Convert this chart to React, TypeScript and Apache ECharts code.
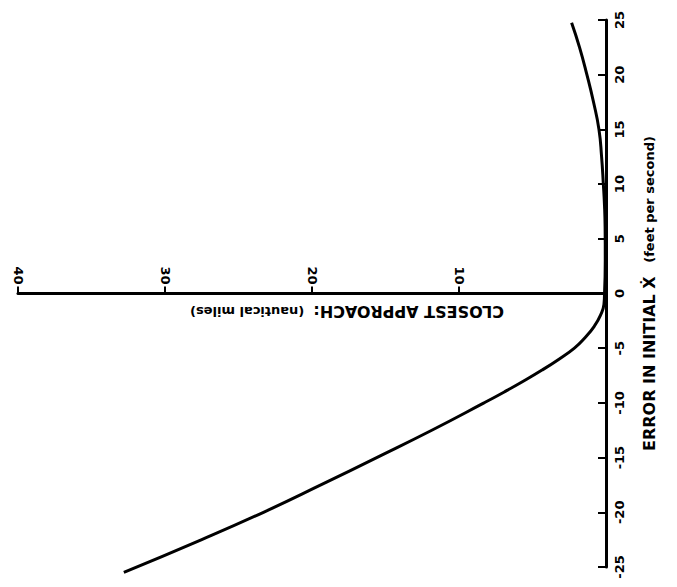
import { useEffect, useRef } from 'react';
import * as echarts from 'echarts';

// Error in initial X-dot (feet per second) — vertical axis
const errorMin = -25;
const errorMax = 25;
const errorInterval = 5;
// Closest approach (nautical miles) — horizontal axis
const approachMin = 0;
const approachMax = 40;
const approachInterval = 10;

// Branch for negative errors
const lowerError = [0, -1, -2, -3, -4, -5, -6, -7, -8, -9, -10, -12.5, -15, -17.5, -20, -22.5, -25.5];
const lowerApproach = [0.1, 0.14, 0.38, 0.8, 1.4, 2.15, 3.2, 4.35, 5.6, 6.92, 8.3, 11.85, 15.6, 19.4, 23.3, 27.5, 32.8];

// Branch for positive errors
const upperError = [0, 3, 6, 8, 10, 12.5, 15, 17.5, 20, 22.5, 24.75];
const upperApproach = [0.1, 0.05, 0.06, 0.1, 0.18, 0.3, 0.48, 0.85, 1.3, 1.8, 2.34];

const xTitleMain = 'CLOSEST APPROACH:';
const xTitleUnit = '(nautical miles)';
const yTitleMain = 'ERROR IN INITIAL Ẋ';
const yTitleUnit = '(feet per second)';

const FONT = 'DejaVu Sans';

export default function App() {
  const ref = useRef<HTMLDivElement>(null);
  useEffect(() => {
    document.body.style.margin = '0';
    const chart = echarts.init(ref.current!, null, { renderer: 'svg' });
    const lower = lowerError.map((e, i) => [lowerApproach[i], e]);
    const upper = upperError.map((e, i) => [upperApproach[i], e]);
    const gridTop = 20;
    const gridBottom = 20;
    const gridH = 587 - gridTop - gridBottom;
    chart.setOption({
      animation: false,
      backgroundColor: '#ffffff',
      grid: { left: 18, right: 71, top: gridTop, bottom: gridBottom, containLabel: false },
      xAxis: {
        type: 'value',
        min: approachMin,
        max: approachMax,
        interval: approachInterval,
        inverse: true,
        position: 'top',
        offset: -gridH / 2,
        axisLine: { show: true, onZero: false, lineStyle: { color: '#000', width: 3 } },
        axisTick: { show: true, inside: false, length: 7, lineStyle: { color: '#000', width: 2 } },
        axisLabel: {
          show: true,
          rotate: 90,
          margin: 9,
          color: '#000',
          fontFamily: FONT,
          fontWeight: 'bold',
          fontSize: 13,
          formatter: (v: number) => (v === 0 ? '' : String(v)),
        },
        splitLine: { show: false },
      },
      yAxis: {
        type: 'value',
        min: errorMin,
        max: errorMax,
        interval: errorInterval,
        position: 'right',
        axisLine: { show: true, onZero: false, lineStyle: { color: '#000', width: 3 } },
        axisTick: { show: true, inside: true, length: 8, lineStyle: { color: '#000', width: 2 } },
        axisLabel: {
          show: true,
          rotate: 90,
          margin: 7,
          color: '#000',
          fontFamily: FONT,
          fontWeight: 'bold',
          fontSize: 13,
        },
        splitLine: { show: false },
        name: `{a|${yTitleMain}}{b|   ${yTitleUnit}}`,
        nameLocation: 'middle',
        nameRotate: 90,
        nameGap: 35,
        nameTextStyle: {
          color: '#000',
          fontFamily: FONT,
          fontWeight: 'bold',
          rich: {
            a: { fontSize: 16, fontWeight: 'bold', fontFamily: FONT, color: '#000' },
            b: { fontSize: 13, fontWeight: 'bold', fontFamily: FONT, color: '#000' },
          },
        },
      },
      graphic: [
        {
          type: 'text',
          x: 347,
          y: 311,
          rotation: Math.PI,
          style: {
            text: `{a|${xTitleMain}}{b|  ${xTitleUnit}}`,
            fill: '#000',
            textAlign: 'center',
            textVerticalAlign: 'middle',
            rich: {
              a: { fontSize: 16, fontWeight: 'bold', fontFamily: FONT, fill: '#000' },
              b: { fontSize: 13, fontWeight: 'bold', fontFamily: FONT, fill: '#000' },
            },
          },
        },
      ],
      series: [
        {
          type: 'line',
          data: lower,
          showSymbol: false,
          smooth: 0.5,
          clip: false,
          lineStyle: { color: '#000', width: 3 },
        },
        {
          type: 'line',
          data: upper,
          showSymbol: false,
          smooth: 0.5,
          clip: false,
          lineStyle: { color: '#000', width: 3 },
        },
      ],
    });
    return () => chart.dispose();
  }, []);
  return (
    <div
      ref={ref}
      style={{ position: 'absolute', left: 0, top: 0, width: 677, height: 587, background: '#fff' }}
    />
  );
}
